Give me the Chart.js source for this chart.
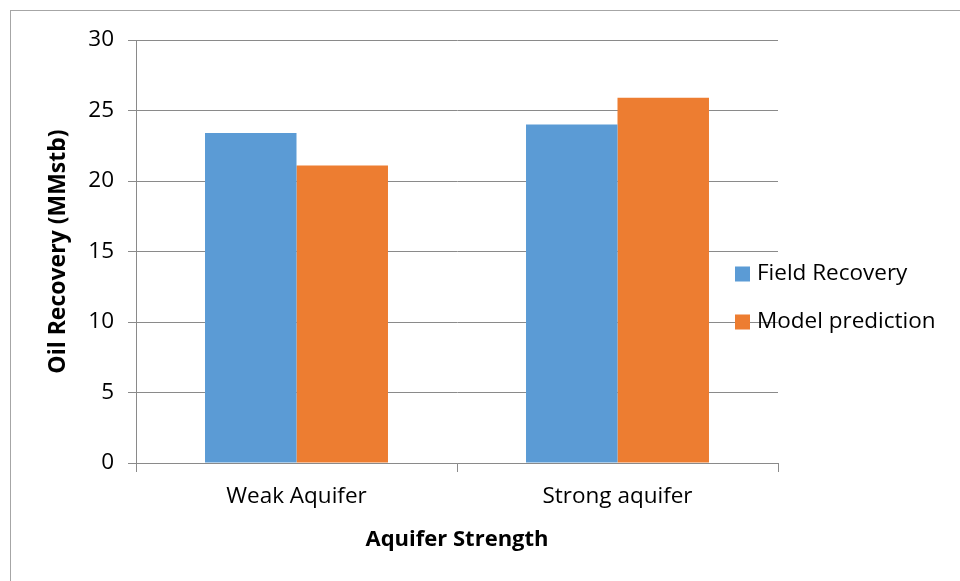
<!DOCTYPE html>
<html>
<head>
<meta charset="utf-8">
<script src="https://cdn.jsdelivr.net/npm/chart.js@4/dist/chart.umd.min.js"></script>
<style>
  html, body { margin: 0; padding: 0; background: #fff; }
  #wrap { width: 960px; height: 581px; position: relative; }
</style>
</head>
<body>
<div id="wrap"><canvas id="c" width="960" height="581"></canvas></div>
<script>
// Oil recovery by aquifer strength: field data vs. model prediction
const categories = ['Weak Aquifer', 'Strong aquifer'];
const fieldRecovery = [23.4, 24.0];
const modelPrediction = [21.1, 25.9];
const yTicks = [0, 5, 10, 15, 20, 25, 30];

const FONT = '"Open Sans", Lato, sans-serif';
const GRID = '#8a8a8a';

// Outer frame around the whole figure
const framePlugin = {
  id: 'frame',
  beforeDraw(chart) {
    const ctx = chart.ctx;
    ctx.save();
    ctx.fillStyle = '#fff';
    ctx.fillRect(0, 0, chart.width, chart.height);
    ctx.strokeStyle = '#a6a6a6';
    ctx.lineWidth = 1;
    ctx.strokeRect(10.5, 10.5, chart.width + 20, chart.height + 20);
    ctx.restore();
  }
};

// Legend drawn on the right, overlapping the plot edge
const sideLegend = {
  id: 'sideLegend',
  afterDraw(chart) {
    const ctx = chart.ctx;
    const x0 = 735, y0 = 274, gap = 48, box = 15;
    ctx.save();
    ctx.font = '22.5px ' + FONT;
    ctx.textBaseline = 'middle';
    chart.data.datasets.forEach((ds, i) => {
      const y = y0 + i * gap;
      ctx.fillStyle = ds.backgroundColor;
      ctx.fillRect(x0, y - box / 2, box, box);
      ctx.fillStyle = '#000';
      ctx.fillText(ds.label, x0 + 22, y);
    });
    ctx.restore();
  }
};

new Chart(document.getElementById('c'), {
  type: 'bar',
  data: {
    labels: categories,
    datasets: [
      { label: 'Field Recovery', data: fieldRecovery, backgroundColor: '#5B9BD5' },
      { label: 'Model prediction', data: modelPrediction, backgroundColor: '#ED7D31' }
    ]
  },
  options: {
    responsive: false,
    animation: false,
    layout: { padding: { left: 45, top: 40, right: 182, bottom: 28 } },
    datasets: { bar: { categoryPercentage: 0.57, barPercentage: 1.0, borderWidth: 0 } },
    plugins: {
      legend: { display: false },
      tooltip: { enabled: false }
    },
    scales: {
      x: {
        offset: true,
        grid: { offset: true, drawOnChartArea: false, drawTicks: true, tickLength: 9, color: GRID },
        border: { display: true, color: GRID, width: 1 },
        ticks: { color: '#000', font: { family: FONT, size: 22.5 }, padding: 11 },
        title: {
          display: true, text: 'Aquifer Strength', color: '#000',
          font: { family: FONT, size: 22, weight: 'bold' }, padding: { top: 14, bottom: 0 }
        },
        afterFit(s) { s.height = 90; }
      },
      y: {
        min: 0, max: 30,
        afterBuildTicks(s) { s.ticks = yTicks.map(v => ({ value: v })); },
        grid: { color: GRID, drawTicks: true, tickLength: 8, lineWidth: 1 },
        border: { display: true, color: GRID, width: 1 },
        ticks: { color: '#000', font: { family: FONT, size: 22.5 }, padding: 14 },
        title: {
          display: true, text: 'Oil Recovery (MMstb)', color: '#000',
          font: { family: FONT, size: 23, weight: 'bold' }, padding: 0
        },
        afterFit(s) { s.width = 91; }
      }
    }
  },
  plugins: [framePlugin, sideLegend]
});
</script>
</body>
</html>
